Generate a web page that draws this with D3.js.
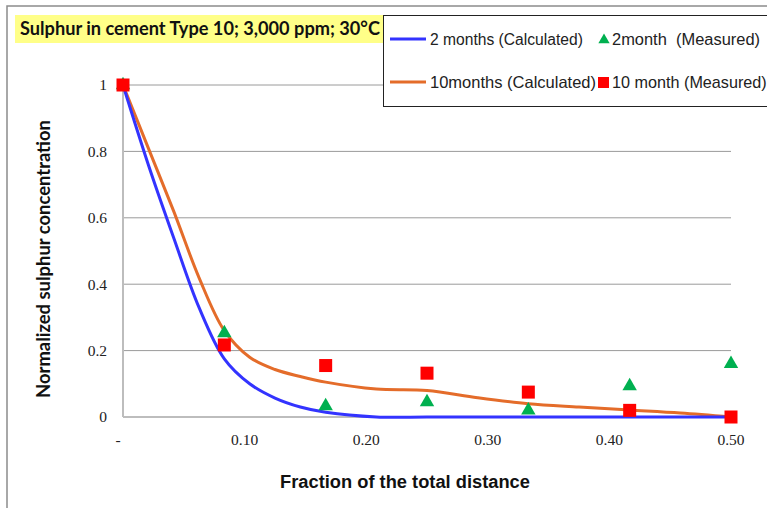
<!DOCTYPE html>
<html>
<head>
<meta charset="utf-8">
<script src="https://cdn.jsdelivr.net/npm/d3@7"></script>
<style>
  html, body { margin: 0; padding: 0; background: #fff; }
  svg { display: block; }
</style>
</head>
<body>
<svg id="chart" width="767" height="508"></svg>
<script>
// Measured points sit at twelfths of the distance
var measuredX = [0, 1 / 12, 2 / 12, 3 / 12, 4 / 12, 5 / 12, 6 / 12];
var twoMonthMeasured = [1, 0.253, 0.033, 0.045, 0.02, 0.093, 0.16];
var tenMonthMeasured = [1, 0.217, 0.155, 0.132, 0.075, 0.02, 0.0];

// Calculated profiles (finer near the surface, where they drop fast)
var calcX = [0, 1 / 48, 2 / 48, 3 / 48, 4 / 48, 5 / 48, 6 / 48, 7 / 48, 8 / 48, 10 / 48, 12 / 48, 14 / 48, 16 / 48, 18 / 48, 20 / 48, 22 / 48, 24 / 48];
var twoMonthCalc = [1, 0.76, 0.54, 0.33, 0.175, 0.1, 0.057, 0.03, 0.014, 0, 0, 0, 0, 0, 0, 0, 0];
var tenMonthCalc = [1, 0.81, 0.62, 0.42, 0.26, 0.18, 0.143, 0.122, 0.105, 0.084, 0.08, 0.058, 0.04, 0.03, 0.021, 0.012, 0];

var xTicks = [0, 0.1, 0.2, 0.3, 0.4, 0.5];
var xTickLabels = ['-', '0.10', '0.20', '0.30', '0.40', '0.50'];
var yTicks = [0, 0.2, 0.4, 0.6, 0.8, 1];
var yTickLabels = ['0', '0.2', '0.4', '0.6', '0.8', '1'];

var colors = {
  blue: '#3333ff',
  orange: '#e46c2a',
  green: '#00b050',
  red: '#ff0000',
  grid: '#9a9a9a',
  axis: '#bdbdbd'
};

var svg = d3.select('#chart');

var plot = {left: 123, right: 731, top: 85, bottom: 417};

var x = d3.scaleLinear().domain([0, 0.5]).range([plot.left, plot.right]);
var y = d3.scaleLinear().domain([0, 1]).range([plot.bottom, plot.top]);

// Scale font so text spans the given width
function fitWidth(text, width) {
  var size = parseFloat(text.attr('font-size'));
  var len = text.node().getComputedTextLength();
  if (len > 0)
    text.attr('font-size', (size * width / len).toFixed(2));
  return text;
}

// outer chart frame
svg.append('rect')
  .attr('x', 7).attr('y', 6)
  .attr('width', 800).attr('height', 600)
  .attr('fill', 'none')
  .attr('stroke', '#8c8c8c')
  .attr('stroke-width', 1.5);

// gridlines
svg.append('g')
  .selectAll('line')
  .data(yTicks.filter(function(d) { return d > 0; }))
  .enter().append('line')
    .attr('x1', plot.left).attr('x2', plot.right)
    .attr('y1', function(d) { return y(d); })
    .attr('y2', function(d) { return y(d); })
    .attr('stroke', colors.grid)
    .attr('stroke-width', 1);

// axes lines
svg.append('line')
  .attr('x1', plot.left).attr('x2', plot.left)
  .attr('y1', plot.top).attr('y2', plot.bottom)
  .attr('stroke', colors.axis).attr('stroke-width', 2);
svg.append('line')
  .attr('x1', plot.left).attr('x2', plot.right)
  .attr('y1', plot.bottom).attr('y2', plot.bottom)
  .attr('stroke', colors.axis).attr('stroke-width', 2);

// tick labels
var tickFont = '"Liberation Serif", "DejaVu Serif", serif';
svg.append('g')
  .selectAll('text')
  .data(yTicks)
  .enter().append('text')
    .attr('x', 107)
    .attr('y', function(d) { return y(d); })
    .attr('dy', '0.35em')
    .attr('text-anchor', 'end')
    .attr('font-family', tickFont)
    .attr('font-size', 15.5)
    .attr('fill', '#222')
    .text(function(d, i) { return yTickLabels[i]; });

svg.append('g')
  .selectAll('text')
  .data(xTicks)
  .enter().append('text')
    .attr('x', function(d, i) { return i === 0 ? x(d) - 5 : x(d); })
    .attr('y', 445)
    .attr('text-anchor', 'middle')
    .attr('font-family', tickFont)
    .attr('font-size', 15.5)
    .attr('fill', '#222')
    .text(function(d, i) { return xTickLabels[i]; });

// axis titles
fitWidth(svg.append('text')
  .attr('transform', 'translate(50, 259) rotate(-90)')
  .attr('text-anchor', 'middle')
  .attr('font-family', 'Lato, "Open Sans", sans-serif')
  .attr('font-weight', 'bold')
  .attr('font-size', 16)
  .attr('fill', '#111')
  .text('Normalized sulphur concentration'), 278);

fitWidth(svg.append('text')
  .attr('x', 405).attr('y', 488)
  .attr('text-anchor', 'middle')
  .attr('font-family', '"Liberation Sans", Arial, sans-serif')
  .attr('font-weight', 'bold')
  .attr('font-size', 15)
  .attr('fill', '#111')
  .text('Fraction of the total distance'), 250);

// calculated curves
var line = d3.line()
  .x(function(d) { return x(d[0]); })
  .y(function(d) { return y(d[1]); })
  .curve(d3.curveCatmullRom.alpha(0.5));

svg.append('path')
  .datum(d3.zip(calcX, tenMonthCalc))
  .attr('d', line)
  .attr('fill', 'none')
  .attr('stroke', colors.orange)
  .attr('stroke-width', 3);

svg.append('path')
  .datum(d3.zip(calcX, twoMonthCalc))
  .attr('d', line)
  .attr('fill', 'none')
  .attr('stroke', colors.blue)
  .attr('stroke-width', 3);

// measured markers
var triangle = d3.symbol().type(d3.symbolTriangle).size(90);

svg.append('g')
  .selectAll('path')
  .data(d3.zip(measuredX, twoMonthMeasured))
  .enter().append('path')
    .attr('d', triangle)
    .attr('transform', function(d) { return 'translate(' + x(d[0]) + ',' + y(d[1]) + ')'; })
    .attr('fill', colors.green);

svg.append('g')
  .selectAll('rect')
  .data(d3.zip(measuredX, tenMonthMeasured))
  .enter().append('rect')
    .attr('x', function(d) { return x(d[0]) - 6.5; })
    .attr('y', function(d) { return y(d[1]) - 6.5; })
    .attr('width', 13).attr('height', 13)
    .attr('fill', colors.red);

// title with highlight
svg.append('rect')
  .attr('x', 15).attr('y', 15)
  .attr('width', 370).attr('height', 28)
  .attr('fill', '#ffff88');

fitWidth(svg.append('text')
  .attr('x', 20).attr('y', 35)
  .attr('font-family', 'Lato, "Open Sans", sans-serif')
  .attr('font-weight', 'bold')
  .attr('font-size', 16)
  .attr('fill', '#111')
  .text('Sulphur in cement Type 10; 3,000 ppm; 30°C'), 360);

// legend
var legend = svg.append('g');
legend.append('rect')
  .attr('x', 383.5).attr('y', 15.5)
  .attr('width', 400).attr('height', 91)
  .attr('fill', '#fff')
  .attr('stroke', '#222')
  .attr('stroke-width', 1);

var legendFont = '"Liberation Sans", Arial, sans-serif';
var legendRows = [
  {y: 39, color: colors.blue, label: '2 months (Calculated)', width: 153,
    marker: 'triangle', markerLabel: '2month  (Measured)', markerWidth: 148},
  {y: 82, color: colors.orange, label: '10months (Calculated)', width: 166,
    marker: 'square', markerLabel: '10 month (Measured)', markerWidth: 155}
];

legendRows.forEach(function(row) {
  legend.append('line')
    .attr('x1', 390).attr('x2', 426)
    .attr('y1', row.y).attr('y2', row.y)
    .attr('stroke', row.color)
    .attr('stroke-width', 3);
  fitWidth(legend.append('text')
    .attr('x', 430).attr('y', row.y + 6)
    .attr('font-family', legendFont)
    .attr('font-size', 15)
    .attr('fill', '#222')
    .text(row.label), row.width);
  if (row.marker === 'triangle') {
    legend.append('path')
      .attr('d', d3.symbol().type(d3.symbolTriangle).size(55))
      .attr('transform', 'translate(604,' + (row.y + 1) + ')')
      .attr('fill', colors.green);
  }
  else {
    legend.append('rect')
      .attr('x', 598).attr('y', row.y - 5)
      .attr('width', 11).attr('height', 11)
      .attr('fill', colors.red);
  }
  fitWidth(legend.append('text')
    .attr('x', 612).attr('y', row.y + 6)
    .attr('font-family', legendFont)
    .attr('font-size', 15)
    .attr('fill', '#222')
    .attr('xml:space', 'preserve')
    .text(row.markerLabel), row.markerWidth);
});
</script>
</body>
</html>
